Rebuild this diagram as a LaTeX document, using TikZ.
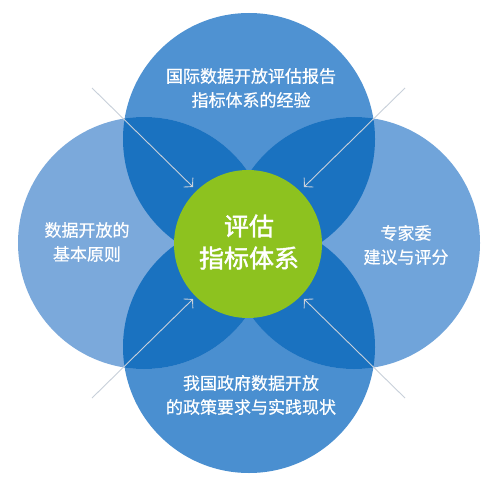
\documentclass[tikz,border=0pt]{standalone}
\usepackage{fontspec}
\newfontfamily\cjk{Noto Sans CJK SC}[FakeBold=0.6]
\newfontfamily\cjkb{Noto Sans CJK SC}[FakeBold=1.6]
\usetikzlibrary{arrows.meta}
\definecolor{topblue}{HTML}{4F92D2}
\definecolor{botblue}{HTML}{4A8FD0}
\definecolor{leftblue}{HTML}{7BA9DB}
\definecolor{rightblue}{HTML}{70A4DA}
\definecolor{darkblue}{HTML}{1A72C0}
\definecolor{midgreen}{HTML}{8DC21F}
\definecolor{arrowgray}{HTML}{C8D0DA}
\tikzset{
  petal/.style={circle, minimum size=252pt, inner sep=0pt},
  label/.style={text=white, align=center, font=\cjk\fontsize{17}{24}\selectfont},
  pointer/.style={draw=arrowgray, line width=0.9pt, -{Straight Barb[length=6pt,width=13pt,line width=0.9pt]}}
}
\begin{document}
\begin{tikzpicture}[x=1pt,y=-1pt]
\useasboundingbox (0,0) rectangle (499,500);
\fill[white] (0,0) rectangle (499,500);
% circles
\node[petal, fill=topblue] (top) at (249,139) {};
\node[petal, fill=botblue] (bot) at (249,347) {};
\node[petal, fill=leftblue] (left) at (144,243) {};
\node[petal, fill=rightblue] (right) at (354,243) {};
% overlaps
\begin{scope}
  \clip (249,139) circle (126pt);
  \fill[darkblue] (144,243) circle (126pt);
  \fill[darkblue] (354,243) circle (126pt);
\end{scope}
\begin{scope}
  \clip (249,347) circle (126pt);
  \fill[darkblue] (144,243) circle (126pt);
  \fill[darkblue] (354,243) circle (126pt);
\end{scope}
% centre
\node[circle, fill=midgreen, minimum size=148pt, inner sep=0pt] (hub) at (248,244) {};
% texts
\node[label] (ttop) at (251,88) {国际数据开放评估报告\\指标体系的经验};
\node[label] (tleft) at (87,242) {数据开放的\\基本原则};
\node[label] (tright) at (406,245) {专家委\\建议与评分};
\node[label] (tbot) at (251,395) {我国政府数据开放\\的政策要求与实践现状};
\node[text=white, align=center, font=\cjkb\fontsize{25}{32}\selectfont] (thub) at (249,242) {评估\\指标体系};
% arrows
\coordinate (s1) at (92,88);   \coordinate (e1) at (193,187);
\coordinate (s2) at (405,88);  \coordinate (e2) at (304,187);
\coordinate (s3) at (92,398);  \coordinate (e3) at (193,299);
\coordinate (s4) at (405,398); \coordinate (e4) at (304,299);
\draw[pointer] (s1) -- (e1);
\draw[pointer] (s2) -- (e2);
\draw[pointer] (s3) -- (e3);
\draw[pointer] (s4) -- (e4);
\end{tikzpicture}
\end{document}
